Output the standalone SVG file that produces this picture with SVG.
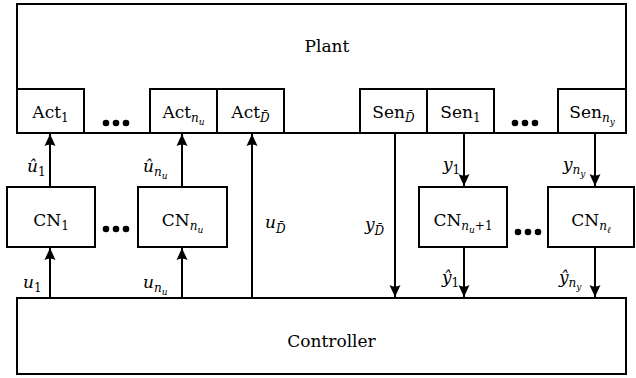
<svg xmlns="http://www.w3.org/2000/svg" width="636" height="378" viewBox="0 0 636 378">
<defs>
<style>
.box{fill:#fff;stroke:#000;stroke-width:2}
.wire{stroke:#000;stroke-width:2;fill:none}
text{font-family:"DejaVu Serif","Liberation Serif",serif;font-size:17px;fill:#000}
.c{text-anchor:middle}
.m{font-style:italic}
.n{font-style:normal}
tspan.s{font-size:12px}
tspan.ss{font-size:9px}
.dot{fill:#000}
</style>
<marker id="ah" markerUnits="userSpaceOnUse" markerWidth="14" markerHeight="12" viewBox="0 -6 14 12" refX="12" refY="0" orient="auto">
<path d="M0,-5.5 L12,0 L0,5.5 Q3,0 0,-5.5 Z" fill="#000"/>
</marker>
</defs>
<rect width="636" height="378" fill="#fff"/>

<g id="plant">
<rect class="box" x="17" y="4" width="609" height="129"/>
<text class="c" x="327" y="52">Plant</text>
</g>

<g id="act1"><rect class="box" x="17" y="89" width="67" height="44"/>
<text class="c" x="50.5" y="118">Act<tspan class="s" dy="4">1</tspan></text></g>
<g id="actnu"><rect class="box" x="150" y="89" width="67" height="44"/>
<text class="c" x="183.5" y="118">Act<tspan class="s m" dy="4">n</tspan><tspan class="ss m" dy="3">u</tspan></text></g>
<g id="actD"><rect class="box" x="217" y="89" width="67" height="44"/>
<text class="c" x="250.5" y="118">Act<tspan class="s m" dy="4">D̄</tspan></text></g>

<g id="senD"><rect class="box" x="360" y="89" width="67" height="44"/>
<text class="c" x="393.5" y="118">Sen<tspan class="s m" dy="4">D̄</tspan></text></g>
<g id="sen1"><rect class="box" x="427" y="89" width="67" height="44"/>
<text class="c" x="460.5" y="118">Sen<tspan class="s" dy="4">1</tspan></text></g>
<g id="senny"><rect class="box" x="558" y="89" width="68" height="44"/>
<text class="c" x="592" y="118">Sen<tspan class="s m" dy="4">n</tspan><tspan class="ss m" dy="3">y</tspan></text></g>

<g id="cn1"><rect class="box" x="7" y="187" width="88" height="60"/>
<text class="c" x="51" y="226">CN<tspan class="s" dy="4">1</tspan></text></g>
<g id="cnnu"><rect class="box" x="138" y="187" width="89" height="60"/>
<text class="c" x="182.5" y="226">CN<tspan class="s m" dy="4">n</tspan><tspan class="ss m" dy="3">u</tspan></text></g>
<g id="cnnu1"><rect class="box" x="419" y="187" width="88" height="60"/>
<text class="c" x="463" y="226">CN<tspan class="s m" dy="4">n</tspan><tspan class="ss m" dy="3">u</tspan><tspan class="s" dy="-3">+1</tspan></text></g>
<g id="cnnl"><rect class="box" x="548" y="187" width="86" height="60"/>
<text class="c" x="591" y="226">CN<tspan class="s m" dy="4">n</tspan><tspan class="ss m" dy="3">ℓ</tspan></text></g>

<g id="controller">
<rect class="box" x="17" y="298" width="609" height="76"/>
<text class="c" x="331.5" y="347">Controller</text>
</g>

<g id="dots">
<circle class="dot" cx="106" cy="123" r="3.3"/><circle class="dot" cx="116" cy="123" r="3.3"/><circle class="dot" cx="126" cy="123" r="3.3"/>
<circle class="dot" cx="106" cy="229" r="3.3"/><circle class="dot" cx="116" cy="229" r="3.3"/><circle class="dot" cx="126" cy="229" r="3.3"/>
<circle class="dot" cx="515" cy="123" r="3.3"/><circle class="dot" cx="525" cy="123" r="3.3"/><circle class="dot" cx="535" cy="123" r="3.3"/>
<circle class="dot" cx="518" cy="232" r="3.3"/><circle class="dot" cx="528" cy="232" r="3.3"/><circle class="dot" cx="538" cy="232" r="3.3"/>
</g>

<g id="connectors">
<line class="wire" x1="50" y1="187" x2="50" y2="134" marker-end="url(#ah)"/>
<line class="wire" x1="50" y1="298" x2="50" y2="248" marker-end="url(#ah)"/>
<line class="wire" x1="182" y1="187" x2="182" y2="134" marker-end="url(#ah)"/>
<line class="wire" x1="182" y1="298" x2="182" y2="248" marker-end="url(#ah)"/>
<line class="wire" x1="252" y1="298" x2="252" y2="134" marker-end="url(#ah)"/>
<line class="wire" x1="395" y1="133" x2="395" y2="297" marker-end="url(#ah)"/>
<line class="wire" x1="464" y1="133" x2="464" y2="186" marker-end="url(#ah)"/>
<line class="wire" x1="464" y1="247" x2="464" y2="297" marker-end="url(#ah)"/>
<line class="wire" x1="595" y1="133" x2="595" y2="186" marker-end="url(#ah)"/>
<line class="wire" x1="595" y1="247" x2="595" y2="297" marker-end="url(#ah)"/>
</g>

<g id="labels">
<text class="m" x="27" y="172">û<tspan class="s n" dy="4">1</tspan></text>
<text class="m" x="143" y="172">û<tspan class="s" dy="4">n</tspan><tspan class="ss" dy="3">u</tspan></text>
<text class="m" x="23" y="288">u<tspan class="s n" dy="4">1</tspan></text>
<text class="m" x="143" y="288">u<tspan class="s" dy="4">n</tspan><tspan class="ss" dy="3">u</tspan></text>
<text class="m" x="265" y="228">u<tspan class="s" dy="5">D̄</tspan></text>
<text class="m" x="365" y="230">y<tspan class="s" dy="5">D̄</tspan></text>
<text class="m" x="443" y="170">y<tspan class="s n" dy="4">1</tspan></text>
<text class="m" x="563" y="170">y<tspan class="s" dy="4">n</tspan><tspan class="ss" dy="3">y</tspan></text>
<text class="m" x="442" y="283">ŷ<tspan class="s n" dy="4">1</tspan></text>
<text class="m" x="559" y="283">ŷ<tspan class="s" dy="4">n</tspan><tspan class="ss" dy="3">y</tspan></text>
</g>
</svg>
